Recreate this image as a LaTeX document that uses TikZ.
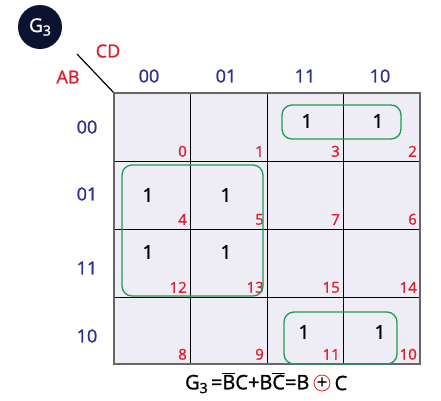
\documentclass[tikz,border=0pt]{standalone}
\usepackage{fontspec}
\setmainfont{Open Sans}[BoldFont={Open Sans}, BoldFeatures={FakeBold=1.3}]
\definecolor{kmapblue}{HTML}{2E3192}
\definecolor{kmapred}{HTML}{E0202E}
\definecolor{kmapgreen}{HTML}{1F9A55}
\definecolor{kmapcell}{HTML}{EEECF4}
\definecolor{kmapnavy}{HTML}{0C1330}
\tikzset{>=latex}
\usetikzlibrary{positioning}
\newcommand{\ovl}[1]{\ensuremath{\overline{\mbox{\bfseries #1}}}}
\newcommand{\sbs}[1]{\raisebox{-0.35ex}{\fontsize{14}{14}\selectfont #1}}

\begin{document}
\begin{tikzpicture}[x=1pt,y=-1pt,
    varlabel/.style={text=kmapred, font=\fontsize{18}{18}\selectfont\bfseries},
    axislabel/.style={text=kmapblue, font=\fontsize{18}{18}\selectfont\bfseries},
    cellnum/.style={text=kmapred, font=\fontsize{15}{15}\selectfont\bfseries, inner sep=0pt, anchor=south east},
    one/.style={font=\fontsize{19}{19}\selectfont\bfseries},
    group/.style={draw=kmapgreen, line width=1.3pt, rounded corners=10pt}]
  \useasboundingbox (0,0) rectangle (441,400);
  % badge
  \node[circle, fill=kmapnavy, text=white, minimum size=44pt, inner sep=0pt,
        font=\fontsize{19}{19}\selectfont\bfseries] (badge) at (40,27) {G\sbs{3}};
  % corner
  \coordinate (corner) at (114,93);
  \coordinate (tail) at (77,54);
  \draw[line width=1.2pt] (tail) -- (corner);
  \node[varlabel] (cd) at (108,51) {CD};
  \node[varlabel] (ab) at (68,77) {AB};
  % cells
  \fill[kmapcell] (114,93) rectangle (420,364);
  \foreach \x in {190,267,343} \draw[line width=0.8pt] (\x,93) -- (\x,364);
  \foreach \y in {161,229,297} \draw[line width=0.8pt] (114,\y) -- (420,\y);
  \draw[line width=1.4pt, gray!80!black] (114,93) rectangle (420,364);
  % column and row labels
  \foreach \x/\t in {149/00,226/01,305/11,380/10}
    \node[axislabel] (col\t) at (\x,76) {\t};
  \foreach \y/\t in {127/00,194/01,268/11,336/10}
    \node[axislabel] (row\t) at (87,\y) {\t};
  % cell numbers
  \foreach \xr/\c in {190/0,267/1,343/3,420/2}
    \foreach \yb/\r in {161/0,229/4,297/12,364/8} {%
      \pgfmathtruncatemacro\n{\r+\c}
      \node[cellnum] (m\n) at (\xr-3,\yb-4) {\n};
    }
  % ones
  \foreach \x/\y/\n in {307/121/3,378/121/2,148/195/4,226/195/5,148/252/12,226/252/13,304/332/11,380/332/10}
    \node[one] (one\n) at (\x,\y) {1};
  % groups
  \draw[group] (282,105) rectangle (401,139);
  \draw[group] (122,165) rectangle (263,296);
  \draw[group] (284,312) rectangle (397,364);
  % expression
  \node[circle, draw=kmapred, line width=0.8pt, minimum size=16pt, inner sep=0pt,
        font=\fontsize{18}{18}\selectfont\bfseries] (xor) at (322,383) {+};
  \node[font=\fontsize{20}{20}\selectfont\bfseries, inner sep=0pt, left=4pt of xor] (expr)
    {G\sbs{3}\,=\ovl{B}C+B\ovl{C}=B};
  \node[font=\fontsize{20}{20}\selectfont\bfseries, inner sep=0pt, right=4pt of xor] (cval) {C};
\end{tikzpicture}
\end{document}
